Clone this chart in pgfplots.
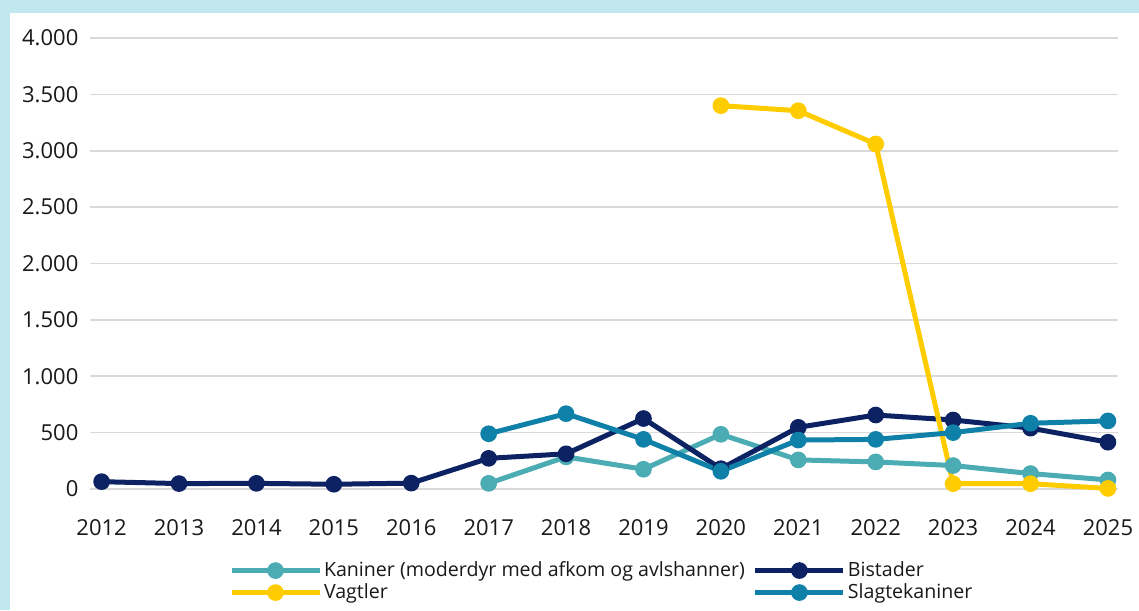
\documentclass[border=0pt]{standalone}
\usepackage{pgfplots}
\pgfplotsset{compat=1.18}
\usepackage{fontspec}
\setmainfont{Open Sans}
\definecolor{bgcyan}{RGB}{192,232,238}
\definecolor{kan}{RGB}{75,172,180}
\definecolor{bis}{RGB}{12,34,99}
\definecolor{vag}{RGB}{255,204,0}
\definecolor{slag}{RGB}{15,128,168}
\definecolor{gridc}{RGB}{217,217,217}
\begin{document}
\begin{tikzpicture}
\fill[bgcyan] (0,0) rectangle (569.5pt,305pt);
\fill[white] (5pt,0) rectangle (569.5pt,298.5pt);
\path[use as bounding box] (0,0) rectangle (569.5pt,305pt);
\begin{axis}[
  at={(45pt,60.5pt)}, anchor=south west,
  scale only axis, width=514pt, height=225.5pt,
  xmin=2011.85, xmax=2025.13, ymin=0, ymax=4000,
  axis line style={draw=none}, major tick length=0pt,
  ymajorgrids, grid style={gridc, line width=0.75pt},
  xtick={2012,2013,2014,2015,2016,2017,2018,2019,2020,2021,2022,2023,2024,2025},
  xticklabels={2012,2013,2014,2015,2016,2017,2018,2019,2020,2021,2022,2023,2024,2025},
  ytick={0,500,1000,1500,2000,2500,3000,3500,4000},
  yticklabels={0,500,1.000,1.500,2.000,2.500,3.000,3.500,4.000},
  ticklabel style={font=\fontsize{11}{13}\selectfont, text=black!90},
  xticklabel style={yshift=-11.5pt},
  yticklabel style={xshift=-2.3pt},
  clip=false,
  legend columns=2,
  legend cell align=left,
  legend style={draw=none, fill=none, at={(rel axis cs:0.129,-0.1456)}, anchor=north west,
    font=\fontsize{9.8}{12}\selectfont, text=black!90,
    nodes={inner sep=1pt, text height=7.5pt, text depth=2pt},
    /tikz/every even column/.append style={column sep=3pt}, row sep=-0.5pt},
  legend image code/.code={\draw[mark repeat=2,mark phase=2,#1] plot coordinates {(0pt,0pt) (22pt,0pt) (44pt,0pt)};},
  every axis plot/.append style={line width=2.5pt, mark=*, mark size=2.9pt, mark options={solid, line width=0.4pt}},
]
\addplot[color=kan, mark options={fill=kan}] coordinates {(2017,50) (2018,285) (2019,175) (2020,485) (2021,258) (2022,240) (2023,208) (2024,137) (2025,80)};
\addlegendentry{Kaniner (moderdyr med afkom og avlshanner)}
\addplot[color=bis, mark options={fill=bis}] coordinates {(2012,65) (2013,48) (2014,50) (2015,42) (2016,52) (2017,272) (2018,312) (2019,625) (2020,180) (2021,547) (2022,656) (2023,612) (2024,540) (2025,415)};
\addlegendentry{Bistader}
\addplot[color=vag, mark options={fill=vag}] coordinates {(2020,3400) (2021,3355) (2022,3060) (2023,47) (2024,47) (2025,5)};
\addlegendentry{Vagtler}
\addplot[color=slag, mark options={fill=slag}] coordinates {(2017,490) (2018,668) (2019,440) (2020,157) (2021,434) (2022,440) (2023,500) (2024,583) (2025,604)};
\addlegendentry{Slagtekaniner}
\end{axis}
\end{tikzpicture}
\end{document}
